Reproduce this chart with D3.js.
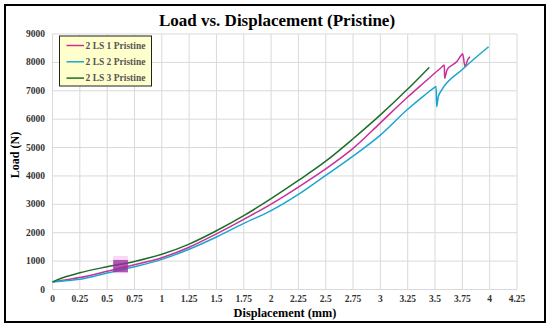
<!DOCTYPE html>
<html>
<head>
<meta charset="utf-8">
<script src="https://cdn.jsdelivr.net/npm/d3@7"></script>
<style>
  body { margin: 0; background: #fff; }
  svg { display: block; font-family: "Liberation Serif", "Times New Roman", serif; }
</style>
</head>
<body>
<svg id="chart" width="550" height="330"></svg>
<script>
// values (displacement mm, load N)
let seriesNames = ['2 LS 1 Pristine', '2 LS 2 Pristine', '2 LS 3 Pristine']
let seriesColors = ['#c9309a', '#1ba6cf', '#1e6e2a']

let ls1 = [[0,260],[0.1,330],[0.25,420],[0.5,640],[0.75,870],[1,1120],[1.25,1490],[1.5,1960],
           [1.75,2470],[2,3010],[2.25,3610],[2.5,4250],[2.75,4970],[3,5870],[3.25,6780],
           [3.4,7290],[3.56,7830],[3.585,7908],[3.588,7440],[3.61,7740],[3.7,8030],[3.74,8250],[3.753,8300],
           [3.774,7850],[3.8,8100],[3.82,8200]]
let ls2 = [[0,260],[0.1,300],[0.25,360],[0.5,580],[0.75,800],[1,1060],[1.25,1420],[1.5,1850],
           [1.75,2330],[2,2780],[2.25,3350],[2.5,4020],[2.75,4700],[3,5440],[3.25,6350],
           [3.4,6830],[3.49,7100],[3.51,7150],[3.515,6440],[3.53,6800],[3.56,7020],[3.75,7750],[3.99,8550]]
let ls3 = [[0,270],[0.1,420],[0.25,590],[0.5,800],[0.75,990],[1,1240],[1.25,1600],[1.5,2070],
           [1.75,2600],[2,3200],[2.25,3840],[2.5,4520],[2.75,5310],[3,6150],[3.25,7060],[3.447,7826]]
let allSeries = [ls1, ls2, ls3]

let xTicks = [0,0.25,0.5,0.75,1,1.25,1.5,1.75,2,2.25,2.5,2.75,3,3.25,3.5,3.75,4,4.25]
let yTicks = [0,1000,2000,3000,4000,5000,6000,7000,8000,9000]

// highlighted box near 0.6 mm
let boxX = [0.555, 0.69]
let boxY = [610, 1040]

let svg = d3.select('#chart')
let margin = {left: 52.5, right: 517, top: 34, bottom: 289.5}

let x = d3.scaleLinear().domain([0, 4.25]).range([margin.left, margin.right])
let y = d3.scaleLinear().domain([0, 9000]).range([margin.bottom, margin.top])

// outer frame
svg.append('rect')
    .attr('x', 5).attr('y', 5).attr('width', 540).attr('height', 317)
    .attr('fill', '#fff').attr('stroke', '#000').attr('stroke-width', 2)

// grid
svg.append('g').selectAll('line')
    .data(xTicks).enter().append('line')
    .attr('x1', d => x(d)).attr('x2', d => x(d))
    .attr('y1', y(0)).attr('y2', y(9000))
    .attr('stroke', '#d9d9d9').attr('stroke-width', 1)
svg.append('g').selectAll('line')
    .data(yTicks).enter().append('line')
    .attr('x1', x(0)).attr('x2', x(4.25))
    .attr('y1', d => y(d)).attr('y2', d => y(d))
    .attr('stroke', '#d9d9d9').attr('stroke-width', 1)

// tick labels
svg.append('g').selectAll('text')
    .data(xTicks).enter().append('text')
    .attr('x', d => x(d)).attr('y', 302)
    .attr('text-anchor', 'middle')
    .attr('font-size', 9.5).attr('font-weight', 'bold').attr('fill', '#333')
    .text(d => d)
svg.append('g').selectAll('text')
    .data(yTicks).enter().append('text')
    .attr('x', 45).attr('y', d => y(d) + 3)
    .attr('text-anchor', 'end')
    .attr('font-size', 9.5).attr('font-weight', 'bold').attr('fill', '#333')
    .text(d => d)

// highlight boxes
svg.append('rect')
    .attr('x', x(boxX[0])).attr('y', y(boxY[1] + 140))
    .attr('width', x(boxX[1]) - x(boxX[0])).attr('height', y(boxY[0] - 40) - y(boxY[1] + 140))
    .attr('fill', '#f6c8f0').attr('opacity', 0.7)

// curves
let line = d3.line().x(d => x(d[0])).y(d => y(d[1])).curve(d3.curveMonotoneX)
svg.append('g').selectAll('path')
    .data(allSeries).enter().append('path')
    .attr('d', line)
    .attr('fill', 'none')
    .attr('stroke', (d, i) => seriesColors[i])
    .attr('stroke-width', 1.5)
    .attr('stroke-linejoin', 'round')

svg.append('rect')
    .attr('x', x(boxX[0])).attr('y', y(boxY[1]))
    .attr('width', x(boxX[1]) - x(boxX[0])).attr('height', y(boxY[0]) - y(boxY[1]))
    .attr('fill', '#9a2a9a').attr('opacity', 0.75)

// legend
let legend = svg.append('g')
legend.append('rect')
    .attr('x', 59.5).attr('y', 36).attr('width', 92).attr('height', 50)
    .attr('fill', '#ffffcc').attr('stroke', '#222').attr('stroke-width', 1)
seriesNames.forEach((name, i) => {
    let ly = 45.5 + i * 16.3
    legend.append('line')
        .attr('x1', 66.5).attr('x2', 84).attr('y1', ly).attr('y2', ly)
        .attr('stroke', seriesColors[i]).attr('stroke-width', 1.5)
    legend.append('text')
        .attr('x', 85.5).attr('y', ly + 3.3)
        .attr('font-size', 9.5).attr('font-weight', 'bold').attr('fill', '#555')
        .text(name)
})

// titles
svg.append('text')
    .attr('x', 277).attr('y', 26)
    .attr('text-anchor', 'middle')
    .attr('font-size', 17).attr('font-weight', 'bold').attr('fill', '#000')
    .text('Load vs. Displacement (Pristine)')
svg.append('text')
    .attr('x', 285).attr('y', 317)
    .attr('text-anchor', 'middle')
    .attr('font-size', 12.3).attr('font-weight', 'bold').attr('fill', '#000')
    .text('Displacement (mm)')
svg.append('text')
    .attr('transform', 'translate(19,155) rotate(-90)')
    .attr('text-anchor', 'middle')
    .attr('font-size', 12).attr('font-weight', 'bold').attr('fill', '#000')
    .text('Load (N)')
</script>
</body>
</html>
